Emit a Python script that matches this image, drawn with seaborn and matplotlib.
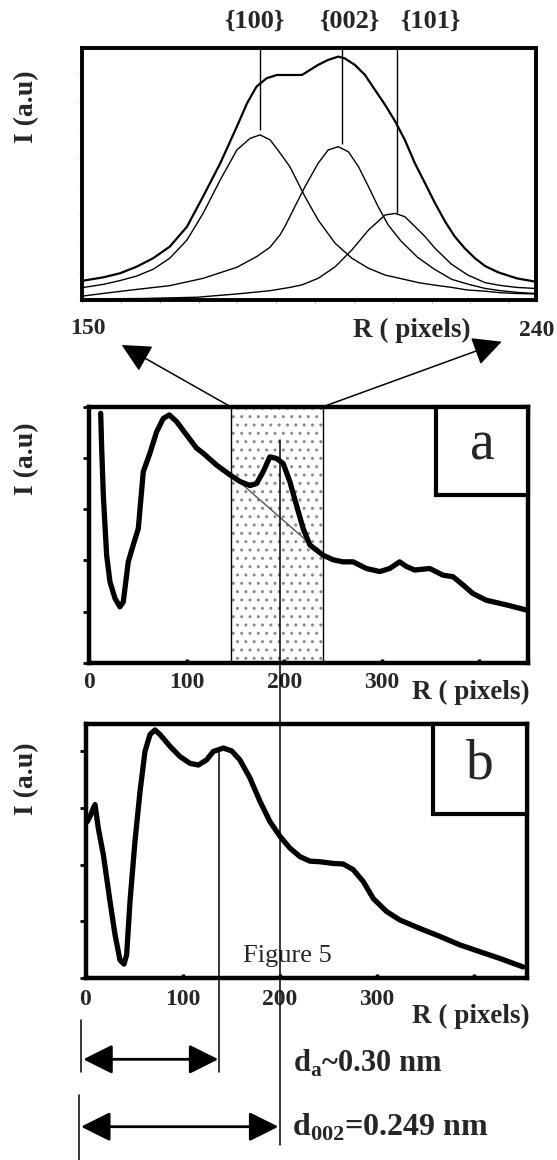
import matplotlib
matplotlib.use('Agg')
import matplotlib.pyplot as plt
import matplotlib.transforms as mtransforms
from matplotlib.patches import Rectangle, FancyArrowPatch, ConnectionPatch
from matplotlib.lines import Line2D
import numpy as np
import seaborn as sns

# ---- top panel: zoom 150-240 px, measured profile + three fitted peaks ----
TOP_TOTAL_R = [150.3, 154.2, 157.5, 160.8, 164.1, 167.4, 170.8, 174.0, 177.4, 180.7,
               182.7, 184.6, 186.6, 188.6, 191.2, 193.6, 196.8, 198.8, 200.8, 202.1,
               204.1, 206.1, 208.1, 210.1, 212.1, 214.0, 216.0, 218.0, 220.0, 222.0,
               223.9, 225.9, 227.9, 229.9, 232.5, 236.2, 239.8]
TOP_TOTAL_I = [7.7, 9.0, 10.6, 13.2, 16.6, 21.2, 29.1, 41.1, 54.3, 68.9,
               78.1, 84.8, 88.1, 89.4, 89.4, 89.4, 93.4, 95.4, 96.7, 96.0,
               93.4, 89.4, 83.4, 77.5, 70.9, 63.6, 54.3, 46.4, 38.4, 31.1,
               25.2, 20.5, 16.6, 13.5, 11.0, 8.6, 7.3]

P100_R = [150.3, 154.2, 157.5, 160.8, 164.1, 167.4, 170.8, 174.0, 177.4, 180.7,
          183.3, 185.3, 187.3, 189.3, 191.2, 194.2, 196.8, 200.2, 203.5, 206.8,
          210.1, 213.0, 216.7, 219.6, 223.3, 226.3, 229.9, 232.9, 236.0, 239.8]
P100_I = [5.0, 6.2, 7.7, 9.5, 12.2, 16.6, 23.8, 34.4, 47.7, 59.6,
          64.2, 65.6, 63.6, 58.3, 53.0, 41.1, 31.8, 22.5, 16.6, 12.6,
          9.9, 8.6, 6.9, 6.0, 5.0, 4.0, 3.5, 2.9, 2.6, 2.4]

P002_R = [150.3, 154.2, 160.8, 167.4, 174.0, 180.7, 184.6, 187.3, 189.3, 190.2,
          192.2, 194.2, 196.8, 198.8, 200.8, 202.8, 204.8, 206.8, 208.7, 210.7,
          213.2, 216.5, 219.8, 223.3, 226.5, 229.9, 233.0, 236.5, 239.8]
P002_I = [1.6, 2.6, 4.2, 5.7, 8.6, 13.0, 17.2, 21.0, 26.0, 29.1,
          37.1, 45.0, 54.3, 59.6, 60.9, 58.9, 53.0, 45.0, 37.1, 29.8,
          23.5, 17.0, 12.3, 8.2, 6.3, 4.6, 3.7, 3.0, 2.6]

P101_R = [150.3, 162.0, 172.8, 180.7, 187.3, 191.2, 193.6, 196.8, 200.2, 203.5,
          206.8, 210.1, 212.1, 214.0, 216.2, 218.0, 220.0, 223.2, 226.5, 229.9,
          232.9, 236.2, 239.8]
P101_I = [0.4, 0.6, 1.1, 2.4, 3.7, 5.0, 6.0, 8.6, 13.2, 19.9,
          27.8, 33.8, 34.4, 33.1, 28.8, 25.2, 20.5, 14.3, 9.9, 6.9,
          5.8, 5.0, 4.6]

PEAK_LABELS = ['{100}', '{002}', '{101}']
PEAK_R = [185.3, 201.5, 212.4]
PEAK_LINE_LOW = [67.5, 62.0, 34.6]

# ---- panel a ----
A_R = [11.7, 12.6, 14.4, 17.8, 21.2, 26.3, 31.4, 34.9, 40.0, 45.1,
       50.3, 55.4, 62.2, 69.1, 75.9, 82.1, 89.6, 99.8, 110.1, 117.0,
       130.6, 144.3, 154.6, 164.9, 171.7, 178.5, 185.3, 192.1, 199.0, 205.8,
       212.6, 219.5, 226.4, 240.0, 250.3, 260.4, 270.8, 284.4, 298.1, 308.4,
       318.6, 325.4, 334.0, 349.4, 363.0, 373.3, 383.5, 393.8, 407.5, 428.0,
       448.5]
A_I = [4.87, 4.25, 3.27, 2.10, 1.58, 1.26, 1.09, 1.19, 1.97, 2.30,
       2.62, 3.73, 4.09, 4.51, 4.77, 4.84, 4.71, 4.45, 4.19, 4.09,
       3.86, 3.67, 3.54, 3.46, 3.50, 3.73, 4.02, 3.99, 3.89, 3.54,
       3.08, 2.62, 2.30, 2.10, 2.01, 1.97, 1.97, 1.84, 1.78, 1.84,
       1.97, 1.88, 1.81, 1.84, 1.71, 1.68, 1.52, 1.35, 1.22, 1.13,
       1.03]
BASE_R = [150, 240]
BASE_I = [3.6, 2.1]
SHADE = (145, 240)

# ---- panel b ----
B_R = [1.9, 5.4, 8.1, 9.8, 13.2, 18.4, 25.2, 30.4, 35.5, 39.6,
       42.3, 45.8, 50.9, 56.1, 61.2, 66.4, 71.5, 76.6, 87.0, 97.2,
       107.5, 116.1, 124.6, 131.5, 141.8, 150.4, 158.9, 169.2, 179.5, 189.8,
       200.1, 210.4, 220.7, 231.0, 241.2, 255.0, 265.2, 275.5, 285.8, 296.1,
       309.8, 323.5, 344.1, 364.7, 385.2, 405.8, 426.4, 450.4]
B_I = [2.76, 2.88, 3.00, 3.06, 2.64, 2.17, 1.35, 0.76, 0.31, 0.24,
       0.40, 1.35, 2.41, 3.29, 4.00, 4.30, 4.38, 4.30, 4.09, 3.91,
       3.79, 3.76, 3.85, 4.00, 4.06, 4.01, 3.85, 3.53, 3.12, 2.76,
       2.50, 2.29, 2.14, 2.06, 2.05, 2.02, 2.01, 1.91, 1.70, 1.40,
       1.17, 1.02, 0.87, 0.73, 0.58, 0.46, 0.34, 0.19]

R_TICKS = [0, 100, 200, 300, 400]
R_TICK_LABELS = ['0', '100', '200', '300', '']
R_DA = 137.7     # d_a peak position in b
R_D002 = 200.5   # d002 line

sns.set_theme(style='ticks')
plt.rcParams['font.family'] = ['Liberation Serif', 'DejaVu Serif']
plt.rcParams['font.weight'] = 'bold'
plt.rcParams['mathtext.fontset'] = 'custom'
plt.rcParams['mathtext.rm'] = 'Liberation Serif'
plt.rcParams['mathtext.bf'] = 'Liberation Serif:bold'
plt.rcParams['hatch.linewidth'] = 1.0

W, H = 557, 1160


def fx(px):
    return px / W


def fy(py):
    return 1 - py / H


def box(l, t, r, b):
    return [fx(l), fy(b), (r - l) / W, (b - t) / H]


fig = plt.figure(figsize=(W / 100, H / 100), dpi=100, facecolor='white')
ax_top = fig.add_axes(box(82, 48.3, 536, 300))
ax_a = fig.add_axes(box(89.3, 406.7, 527.7, 662.7))
ax_b = fig.add_axes(box(85.5, 724.3, 526.7, 977.7))

# top panel
sns.lineplot(x=TOP_TOTAL_R, y=TOP_TOTAL_I, ax=ax_top, color='black', lw=1.6,
             sort=False, estimator=None)
for rr, ii in [(P100_R, P100_I), (P002_R, P002_I), (P101_R, P101_I)]:
    sns.lineplot(x=rr, y=ii, ax=ax_top, color='black', lw=1.0, sort=False, estimator=None)
ax_top.vlines(PEAK_R, PEAK_LINE_LOW, 100, colors='black', lw=1.0)
ax_top.set_xlim(150, 240)
ax_top.set_ylim(0, 100)
ax_top.set_xticks(np.arange(150, 241, 7.7))
ax_top.set_yticks(np.arange(0, 100, 11.25))
ax_top.set_xticklabels([])
ax_top.set_yticklabels([])
ax_top.tick_params(direction='out', length=2.5, width=0.6, color='#999999')
ax_top.set_ylabel('I (a.u)', fontsize=20, fontweight='bold')
ax_top.yaxis.set_label_coords(-0.121, 0.767)
ax_top.set_xlabel('R ( pixels)', fontsize=19.5, fontweight='bold')
ax_top.xaxis.set_label_coords(0.726, -0.119)
for s in ax_top.spines.values():
    s.set_linewidth(2.8)
    s.set_color('black')
for lab, xp in zip(PEAK_LABELS, [254, 349, 430]):
    fig.text(fx(xp), fy(21), lab, fontsize=19, fontweight='bold', ha='center', va='center')
fig.text(fx(88.3), fy(329), '150', fontsize=17, fontweight='bold', ha='center', va='center')
fig.text(fx(536.7), fy(330), '240', fontsize=17, fontweight='bold', ha='center', va='center')

# panel a
ax_a.axvspan(SHADE[0], SHADE[1], facecolor='white', edgecolor='#8a8a8a', hatch='..',
             lw=0, zorder=0)
ax_a.axvline(SHADE[0], color='black', lw=1.0, zorder=1)
ax_a.axvline(SHADE[1], color='black', lw=1.0, zorder=1)
sns.lineplot(x=BASE_R, y=BASE_I, ax=ax_a, color='#555555', lw=1.0, zorder=2)
sns.lineplot(x=A_R, y=A_I, ax=ax_a, color='black', lw=3.8, sort=False, estimator=None, zorder=3)
ax_a.set_xlim(0, 450)
ax_a.set_ylim(0, 5)
ax_a.set_yticks(range(6))
ax_a.set_yticklabels([])

# panel b
sns.lineplot(x=B_R, y=B_I, ax=ax_b, color='black', lw=3.8, sort=False, estimator=None, zorder=3)
ax_b.set_xlim(0, 454)
ax_b.set_ylim(0, 4.48)
ax_b.set_yticks(range(5))
ax_b.set_yticklabels([])

for ax, pad in [(ax_a, 6.5), (ax_b, 8)]:
    ax.set_xticks(R_TICKS)
    ax.set_xticklabels(R_TICK_LABELS)
    ax.tick_params(axis='x', direction='in', length=3, width=2.5, pad=pad, labelsize=17,
                   color='black')
    ax.tick_params(axis='y', direction='out', length=4, width=2, color='black')
    for s in ax.spines.values():
        s.set_linewidth(3.2)
        s.set_color('black')

ax_a.set_ylabel('I (a.u)', fontsize=20, fontweight='bold')
ax_a.yaxis.set_label_coords(-0.142, 0.796)
ax_b.set_ylabel('I (a.u)', fontsize=20, fontweight='bold')
ax_b.yaxis.set_label_coords(-0.133, 0.784)
ax_a.set_xlabel('R ( pixels)', fontsize=19.5, fontweight='bold')
ax_a.xaxis.set_label_coords(0.871, -0.118)
ax_b.set_xlabel('R ( pixels)', fontsize=19.5, fontweight='bold')
ax_b.xaxis.set_label_coords(0.874, -0.151)
for ax in [ax_top, ax_a, ax_b]:
    ax.xaxis.label.set_va('center')
    ax.yaxis.label.set_va('center')

# corner boxes a / b
for ax, letter, x0, y0 in [(ax_a, 'a', 0.791, 0.655), (ax_b, 'b', 0.788, 0.646)]:
    ax.add_patch(Rectangle((x0, y0), 1 - x0, 1 - y0, transform=ax.transAxes,
                           facecolor='white', edgecolor='black', lw=3, zorder=5, clip_on=False))
    ax.text((1 + x0) / 2, (1 + y0) / 2 + 0.02, letter, transform=ax.transAxes, ha='center',
            va='center', fontsize=40, fontweight='normal', zorder=6)

ax_b.text(fx(242.7), fy(961.7), 'Figure 5', transform=fig.transFigure, fontsize=19,
          fontweight='normal', va='baseline', zorder=6)

# arrows from the shaded band to the zoomed panel
for xa, tip in [(SHADE[0], (121.7, 345)), (SHADE[1], (501.7, 341.7))]:
    cp = ConnectionPatch(xyA=(xa, 5), coordsA=ax_a.transData,
                         xyB=(fx(tip[0]), fy(tip[1])), coordsB=fig.transFigure,
                         arrowstyle='-|>,head_length=0.9,head_width=0.45', mutation_scale=20,
                         color='black', lw=1.1)
    fig.add_artist(cp)

# distance markers under panel b
tb = mtransforms.blended_transform_factory(ax_b.transData, fig.transFigure)
for xs, y0, y1 in [(R_D002, 440, 1145), (R_DA, 751, 1071.7), (-4.6, 1020, 1071.7),
                   (-6.7, 1095, 1160)]:
    fig.add_artist(Line2D([xs, xs], [fy(y0), fy(y1)], transform=tb, color='black', lw=1.1,
                          zorder=4))
for xs, xe, yy in [(-2.3, R_DA - 1, 1059.3), (-4.6, R_D002 - 2, 1126.7)]:
    fig.add_artist(FancyArrowPatch((xs, fy(yy)), (xe, fy(yy)), transform=tb,
                                   arrowstyle='<|-|>,head_length=0.9,head_width=0.45',
                                   mutation_scale=20, color='black', lw=2, shrinkA=0, shrinkB=0))
fig.text(fx(293.3), fy(1071.7), r'd$_\mathbf{a}$~0.30 nm', fontsize=22, fontweight='bold',
         va='baseline')
fig.text(fx(291.7), fy(1136), r'd$_\mathbf{002}$=0.249 nm', fontsize=23, fontweight='bold',
         va='baseline')

fig.savefig('out.png', dpi=100, facecolor='white')
